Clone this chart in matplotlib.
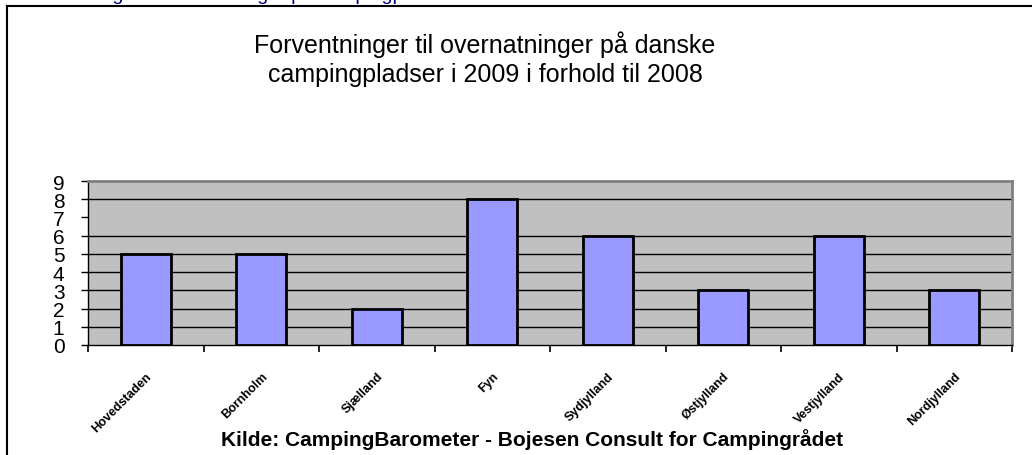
import matplotlib.pyplot as plt
from matplotlib.lines import Line2D

regions = ['Hovedstaden', 'Bornholm', 'Sjælland', 'Fyn', 'Sydjylland',
           'Østjylland', 'Vestjylland', 'Nordjylland']
values = [5, 5, 2, 8, 6, 3, 6, 3]
y_ticks = [0, 1, 2, 3, 4, 5, 6, 7, 8, 9]
grid_levels = [1, 2, 3, 4, 5, 6, 8]

plt.rcParams['font.family'] = ['Liberation Sans', 'DejaVu Sans']

W, H = 1032, 456
fig = plt.figure(figsize=(W / 100, H / 100), dpi=100)

# outer chart frame (open to the right and bottom)
fig.add_artist(Line2D([7 / W, 7 / W], [0, 1 - 7 / H], color='black', lw=1.5,
                      transform=fig.transFigure))
fig.add_artist(Line2D([7 / W, 1], [1 - 7 / H, 1 - 7 / H], color='black', lw=1.5,
                      transform=fig.transFigure))

# header text cut off at the very top, as in the source page
fig.text(20 / W, 1 + 0.5 / H, 'Forventninger til overnatninger på campingpladser i 2009',
         color='#000080', fontsize=14, va='baseline', ha='left')

ax = fig.add_axes([88 / W, (H - 346) / H, (1012 - 88) / W, (346 - 182) / H])
ax.set_facecolor('#c0c0c0')

x = list(range(len(regions)))
ax.bar(x, values, width=0.43, color='#9999ff', edgecolor='black', linewidth=2, zorder=3)

for g in grid_levels:
    ax.axhline(g, color='black', lw=1, zorder=1)

ax.set_xlim(-0.5, len(regions) - 0.5)
ax.set_ylim(0, 9)

ax.set_yticks(y_ticks)
ax.set_yticklabels([str(v) for v in y_ticks], fontsize=15)
ax.tick_params(axis='y', length=5, width=1, pad=12, color='black')

ax.set_xticks([i - 0.5 for i in range(len(regions) + 1)])
ax.set_xticklabels([])
ax.tick_params(axis='x', which='major', length=5, width=1.2, color='black')
ax.set_xticks(x, minor=True)
ax.set_xticklabels(regions, minor=True, rotation=45, ha='right',
                   rotation_mode='anchor', fontsize=9, fontweight='bold')
ax.tick_params(axis='x', which='minor', length=0, pad=18)

for side in ['top', 'right']:
    ax.spines[side].set_color('#808080')
    ax.spines[side].set_linewidth(2)
for side in ['left', 'bottom']:
    ax.spines[side].set_color('black')
    ax.spines[side].set_linewidth(1)

fig.text(485 / W, 1 - 45 / H, 'Forventninger til overnatninger på danske',
         ha='center', va='center', fontsize=18)
fig.text(485 / W, 1 - 75 / H, 'campingpladser i 2009 i forhold til 2008',
         ha='center', va='center', fontsize=18)

fig.text(532 / W, 1 - 440 / H, 'Kilde: CampingBarometer - Bojesen Consult for Campingrådet',
         ha='center', va='center', fontsize=15, fontweight='bold')

fig.savefig('out.png', dpi=100)
